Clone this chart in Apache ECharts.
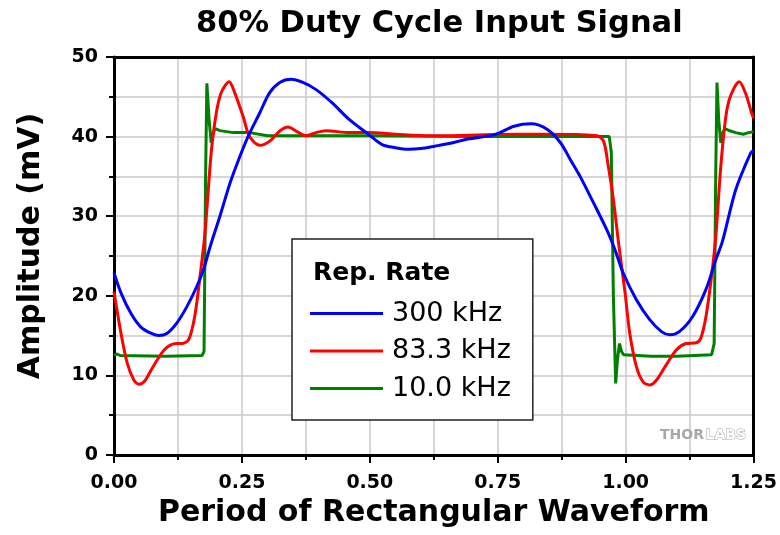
<!DOCTYPE html>
<html>
<head>
<meta charset="utf-8">
<script src="https://cdn.jsdelivr.net/npm/echarts@6.0.0/dist/echarts.min.js"></script>
<style>
html,body{margin:0;padding:0;background:#fff}
#chart{width:780px;height:535px}
</style>
</head>
<body>
<div id="chart"></div>
<script>
// ---- Data ----
const seriesNames = ['300 kHz', '83.3 kHz', '10.0 kHz'];
const xTickLabels = ['0.00', '0.25', '0.50', '0.75', '1.00', '1.25'];
const yTickLabels = ['0', '10', '20', '30', '40', '50'];

// 300 kHz (blue)
const blueX = [0, 0.014, 0.033, 0.052, 0.072, 0.088, 0.104, 0.123, 0.143, 0.162, 0.175, 0.188, 0.207, 0.227, 0.246, 0.262, 0.285, 0.304, 0.324, 0.346, 0.369, 0.395, 0.427, 0.459, 0.498, 0.524, 0.55, 0.576, 0.6, 0.627, 0.66, 0.692, 0.744, 0.782, 0.815, 0.847, 0.873, 0.892, 0.911, 0.937, 0.963, 0.979, 0.995, 1.021, 1.047, 1.07, 1.086, 1.105, 1.131, 1.157, 1.176, 1.189, 1.215, 1.244, 1.25];
const blueY = [22.9, 20.3, 17.8, 16.1, 15.3, 15.0, 15.3, 16.6, 18.7, 21.2, 23.3, 26.2, 30.0, 34.2, 37.5, 40.0, 43.0, 45.5, 46.8, 47.2, 46.8, 45.9, 44.2, 42.2, 40.25, 39.0, 38.6, 38.4, 38.5, 38.8, 39.2, 39.7, 40.25, 41.3, 41.6, 40.9, 39.2, 37.1, 35.0, 31.7, 28.3, 25.8, 22.9, 19.5, 17.0, 15.5, 15.1, 15.5, 17.4, 20.8, 24.5, 26.8, 33.3, 37.9, 38.3];

// 83.3 kHz (red)
const redX = [0, 0.0136, 0.026, 0.039, 0.049, 0.06, 0.072, 0.085, 0.098, 0.11, 0.122, 0.133, 0.146, 0.158, 0.169, 0.178, 0.19, 0.2, 0.21, 0.225, 0.236, 0.252, 0.265, 0.285, 0.304, 0.324, 0.34, 0.356, 0.375, 0.395, 0.414, 0.459, 0.498, 0.55, 0.614, 0.744, 0.84, 0.905, 0.944, 0.957, 0.966, 0.976, 0.986, 0.999, 1.008, 1.021, 1.034, 1.047, 1.06, 1.079, 1.099, 1.118, 1.138, 1.147, 1.157, 1.167, 1.176, 1.186, 1.196, 1.205, 1.222, 1.234, 1.246, 1.25];
const redY = [20.5, 15.3, 11.5, 9.4, 8.9, 9.3, 10.6, 12.0, 13.2, 13.8, 14.0, 14.0, 14.5, 17.5, 22.9, 28.0, 38.0, 43.0, 45.6, 46.9, 45.5, 42.6, 40.0, 38.9, 39.4, 40.7, 41.2, 40.7, 40.1, 40.5, 40.75, 40.5, 40.5, 40.3, 40.1, 40.25, 40.3, 40.25, 40.1, 39.4, 36.3, 32.1, 26.7, 20.3, 15.3, 11.1, 9.2, 8.8, 9.4, 11.3, 13.2, 14.0, 14.1, 14.7, 17.4, 22.0, 27.3, 36.3, 42.6, 45.1, 46.9, 45.5, 43.0, 42.3];

// 10.0 kHz (green)
const greenX = [0, 0.005, 0.012, 0.1, 0.172, 0.176, 0.179, 0.1815, 0.186, 0.19, 0.194, 0.198, 0.207, 0.233, 0.265, 0.3, 0.4, 0.5, 0.7, 0.9, 0.968, 0.972, 0.976, 0.9805, 0.984, 0.988, 0.992, 0.996, 1.05, 1.1, 1.168, 1.173, 1.176, 1.1785, 1.182, 1.186, 1.19, 1.194, 1.205, 1.215, 1.23, 1.24, 1.25];
const greenY = [12.5, 12.7, 12.5, 12.4, 12.5, 13.0, 35.0, 46.7, 42.0, 39.2, 40.5, 41.0, 40.75, 40.5, 40.5, 40.1, 40.1, 40.1, 40.0, 40.0, 40.0, 38.0, 20.0, 9.0, 12.0, 14.0, 13.0, 12.6, 12.4, 12.4, 12.6, 14.0, 35.0, 46.8, 42.0, 39.2, 40.5, 41.0, 40.7, 40.5, 40.3, 40.5, 40.6];

const zip = (xs, ys) => xs.map((x, i) => [x, ys[i]]);

const FONT = 'DejaVu Sans';
const chart = echarts.init(document.getElementById('chart'), null, {renderer: 'canvas'});

function gridLine() { return {show: true, lineStyle: {color: '#c8c8c8', width: 1.5, type: 'solid', opacity: 1}}; }
const frameAxis = {
  axisLine: {show: true, onZero: false, lineStyle: {color: '#000', width: 3}},
  axisTick: {show: false}, axisLabel: {show: false}, splitLine: {show: false}
};

chart.setOption({
  backgroundColor: '#fff',
  animation: false,
  title: {
    text: '80% Duty Cycle Input Signal',
    left: 191,
    top: 4,
    textStyle: {fontFamily: FONT, fontWeight: 'bold', fontSize: 30.5, color: '#000'}
  },
  grid: {
    left: 114, right: 23, top: 57, bottom: 80, show: false
  },
  legend: {
    orient: 'vertical',
    left: 292,
    top: 239,
    data: seriesNames,
    icon: 'rect',
    itemWidth: 73,
    itemHeight: 3,
    itemGap: 10.5,
    padding: [61, 22, 18, 18],
    backgroundColor: '#fff',
    borderColor: '#222',
    borderWidth: 1.5,
    borderRadius: 0,
    textStyle: {fontFamily: FONT, fontSize: 27, color: '#000', padding: [0, 0, 0, 4]}
  },
  xAxis: [{
    type: 'value',
    position: 'bottom',
    min: 0, max: 1.25, interval: 0.25,
    name: 'Period of Rectangular Waveform',
    nameLocation: 'middle',
    nameGap: 42,
    nameTextStyle: {fontFamily: FONT, fontWeight: 'bold', fontSize: 30, color: '#000'},
    axisLine: {show: true, onZero: false, lineStyle: {color: '#000', width: 3}},
    axisTick: {show: true, inside: false, length: 8, lineStyle: {color: '#000', width: 2}},
    minorTick: {show: true, splitNumber: 2, length: 5, lineStyle: {color: '#000', width: 2}},
    splitLine: gridLine(),
    minorSplitLine: gridLine(),
    axisLabel: {
      show: true,
      margin: 19,
      fontFamily: FONT, fontWeight: 'bold', fontSize: 19, color: '#000',
      showMinLabel: true, showMaxLabel: true,
      formatter: (v) => xTickLabels[Math.round(v / 0.25)]
    }
  }, Object.assign({type: 'value', position: 'top', min: 0, max: 1.25}, frameAxis)],
  yAxis: [{
    type: 'value',
    position: 'left',
    min: 0, max: 50, interval: 10,
    name: 'Amplitude (mV)',
    nameLocation: 'middle',
    nameGap: 68,
    nameTextStyle: {fontFamily: FONT, fontWeight: 'bold', fontSize: 30, color: '#000', padding: [0, 0, 0, 20]},
    axisLine: {show: true, onZero: false, lineStyle: {color: '#000', width: 3}},
    axisTick: {show: true, inside: false, length: 8, lineStyle: {color: '#000', width: 2}},
    minorTick: {show: true, splitNumber: 2, length: 5, lineStyle: {color: '#000', width: 2}},
    splitLine: gridLine(),
    minorSplitLine: gridLine(),
    axisLabel: {
      show: true,
      margin: 16,
      fontFamily: FONT, fontWeight: 'bold', fontSize: 19, color: '#000',
      formatter: (v) => yTickLabels[Math.round(v / 10)]
    }
  }, Object.assign({type: 'value', position: 'right', min: 0, max: 50}, frameAxis)],
  graphic: [
    {
      type: 'text', left: 313, top: 261, z: 100,
      style: {text: 'Rep. Rate', font: 'bold 25px "DejaVu Sans"', fill: '#000'}
    },
    {
      type: 'text', left: 660, top: 428, z: 100,
      style: {text: 'THOR', font: 'bold 14px "DejaVu Sans"', fill: '#a8a8a8'}
    },
    {
      type: 'text', left: 705, top: 428, z: 100,
      style: {text: 'LABS', font: 'bold 14px "DejaVu Sans"', fill: '#fff', stroke: '#a8a8a8', lineWidth: 1}
    }
  ],
  series: [
    {
      name: seriesNames[2], type: 'line', data: zip(greenX, greenY),
      showSymbol: false, symbol: 'none', smooth: false,
      lineStyle: {color: '#008000', width: 3}, itemStyle: {color: '#008000'}
    },
    {
      name: seriesNames[1], type: 'line', data: zip(redX, redY),
      showSymbol: false, symbol: 'none', smooth: 0.3,
      lineStyle: {color: '#ff0000', width: 3}, itemStyle: {color: '#ff0000'}
    },
    {
      name: seriesNames[0], type: 'line', data: zip(blueX, blueY),
      showSymbol: false, symbol: 'none', smooth: 0.3,
      lineStyle: {color: '#0000ff', width: 3}, itemStyle: {color: '#0000ff'}
    }
  ]
});
</script>
</body>
</html>
